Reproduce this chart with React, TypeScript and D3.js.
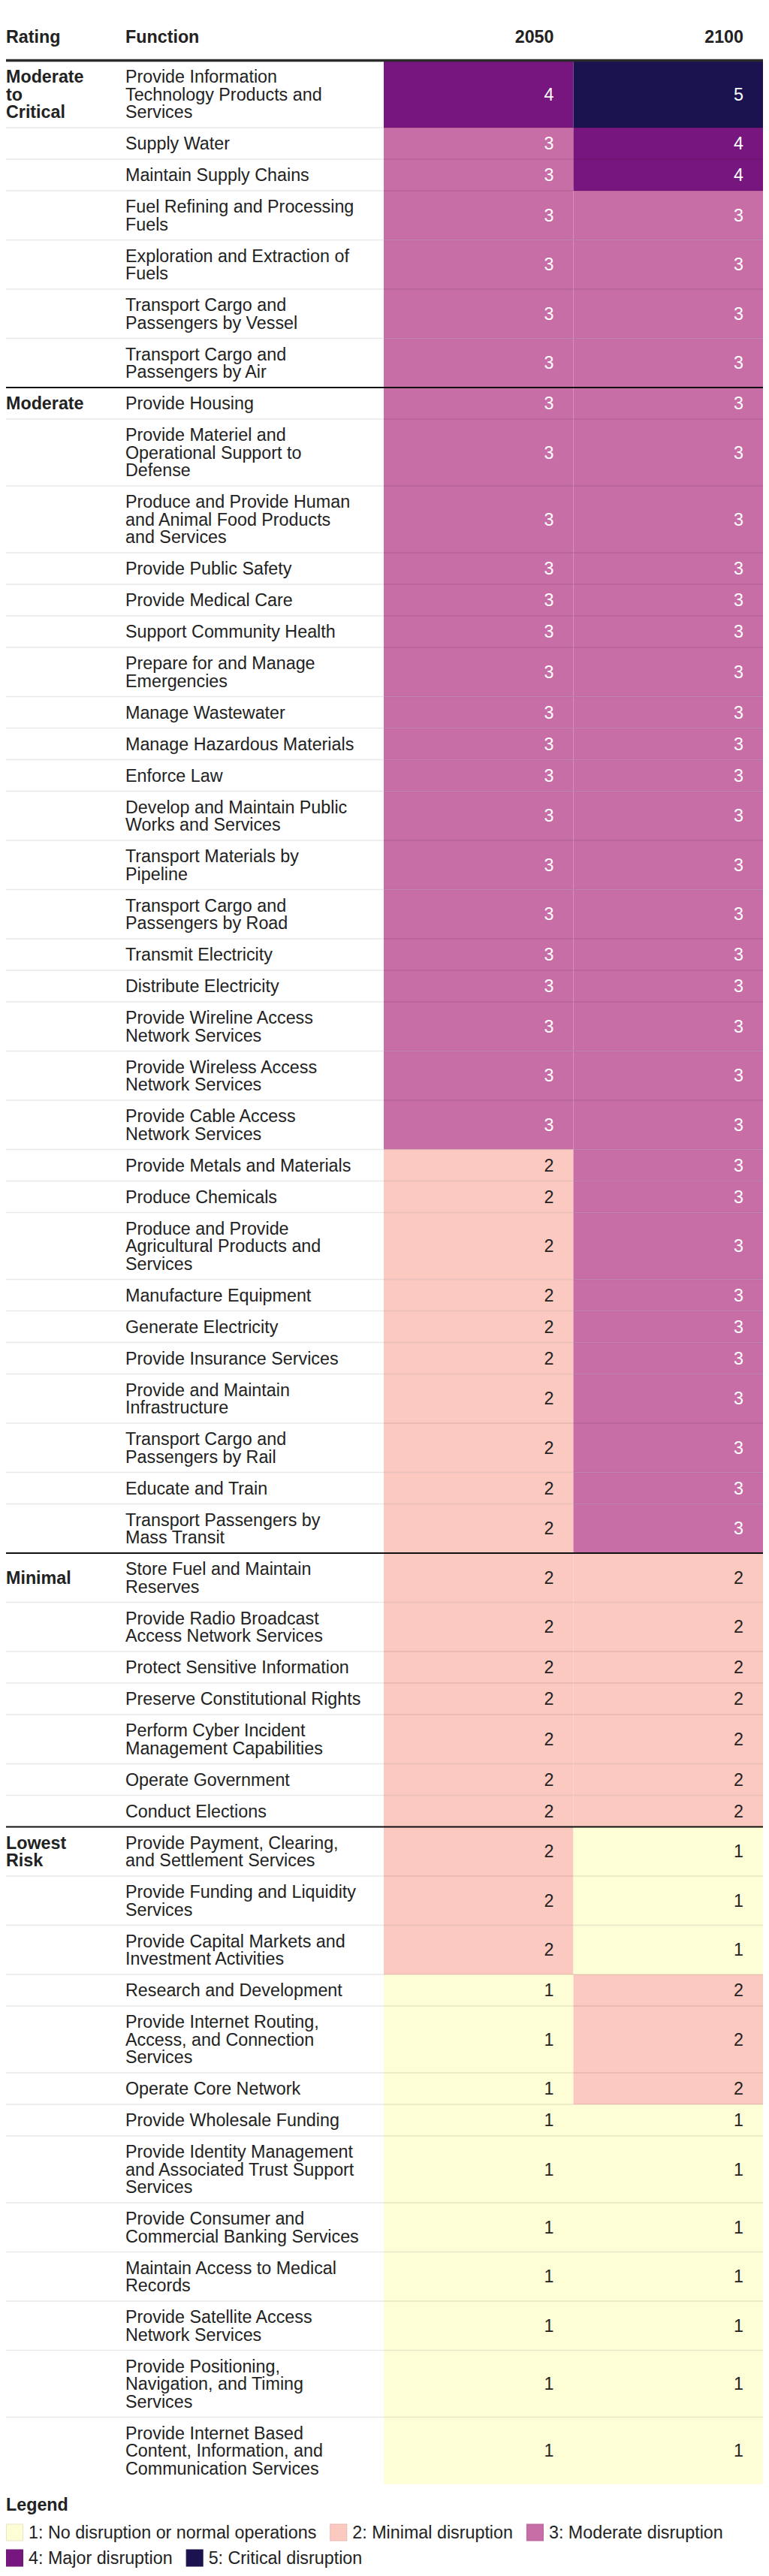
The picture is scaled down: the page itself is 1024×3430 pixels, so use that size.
import React from "react";
import * as d3 from "d3";

// ---------- DATA ----------
const ratingGroups = ["Moderate|to|Critical", "Moderate", "Minimal", "Lowest|Risk"];
const groupSizes = [7, 28, 7, 13];

const functions = [
  "Provide Information|Technology Products and|Services",
  "Supply Water",
  "Maintain Supply Chains",
  "Fuel Refining and Processing|Fuels",
  "Exploration and Extraction of|Fuels",
  "Transport Cargo and|Passengers by Vessel",
  "Transport Cargo and|Passengers by Air",
  "Provide Housing",
  "Provide Materiel and|Operational Support to|Defense",
  "Produce and Provide Human|and Animal Food Products|and Services",
  "Provide Public Safety",
  "Provide Medical Care",
  "Support Community Health",
  "Prepare for and Manage|Emergencies",
  "Manage Wastewater",
  "Manage Hazardous Materials",
  "Enforce Law",
  "Develop and Maintain Public|Works and Services",
  "Transport Materials by|Pipeline",
  "Transport Cargo and|Passengers by Road",
  "Transmit Electricity",
  "Distribute Electricity",
  "Provide Wireline Access|Network Services",
  "Provide Wireless Access|Network Services",
  "Provide Cable Access|Network Services",
  "Provide Metals and Materials",
  "Produce Chemicals",
  "Produce and Provide|Agricultural Products and|Services",
  "Manufacture Equipment",
  "Generate Electricity",
  "Provide Insurance Services",
  "Provide and Maintain|Infrastructure",
  "Transport Cargo and|Passengers by Rail",
  "Educate and Train",
  "Transport Passengers by|Mass Transit",
  "Store Fuel and Maintain|Reserves",
  "Provide Radio Broadcast|Access Network Services",
  "Protect Sensitive Information",
  "Preserve Constitutional Rights",
  "Perform Cyber Incident|Management Capabilities",
  "Operate Government",
  "Conduct Elections",
  "Provide Payment, Clearing,|and Settlement Services",
  "Provide Funding and Liquidity|Services",
  "Provide Capital Markets and|Investment Activities",
  "Research and Development",
  "Provide Internet Routing,|Access, and Connection|Services",
  "Operate Core Network",
  "Provide Wholesale Funding",
  "Provide Identity Management|and Associated Trust Support|Services",
  "Provide Consumer and|Commercial Banking Services",
  "Maintain Access to Medical|Records",
  "Provide Satellite Access|Network Services",
  "Provide Positioning,|Navigation, and Timing|Services",
  "Provide Internet Based|Content, Information, and|Communication Services",
];

const values2050 = [
  4, 3, 3, 3, 3, 3, 3,
  3, 3, 3, 3, 3, 3, 3, 3, 3, 3, 3, 3, 3, 3, 3, 3, 3, 3,
  2, 2, 2, 2, 2, 2, 2, 2, 2, 2,
  2, 2, 2, 2, 2, 2, 2,
  2, 2, 2, 1, 1, 1, 1, 1, 1, 1, 1, 1, 1,
];
const values2100 = [
  5, 4, 4, 3, 3, 3, 3,
  3, 3, 3, 3, 3, 3, 3, 3, 3, 3, 3, 3, 3, 3, 3, 3, 3, 3,
  3, 3, 3, 3, 3, 3, 3, 3, 3, 3,
  2, 2, 2, 2, 2, 2, 2,
  1, 1, 1, 2, 2, 2, 1, 1, 1, 1, 1, 1, 1,
];
const years = ["2050", "2100"];
const levels = [1, 2, 3, 4, 5];
const levelLabels = [
  "1: No disruption or normal operations",
  "2: Minimal disruption",
  "3: Moderate disruption",
  "4: Major disruption",
  "5: Critical disruption",
];
const levelColors = ["#fdfdd6", "#fcc9c0", "#c86ea7", "#78167f", "#1a1350"];

// ---------- LAYOUT ----------
const FONT = "'Liberation Sans', Arial, Helvetica, sans-serif";
const FS = 23.3;
const LINE = 23.5;
const BASE = 0.3465 * FS; // line center -> alphabetic baseline
const LEFT = 8;
const RIGHT = 1016;
const FUNC_X = 167;
const TABLE_TOP = 81;
const TEXT = "#222";

function measure(text: string, weight = "normal") {
  const c = document.createElement("canvas").getContext("2d")!;
  c.font = `${weight} ${FS}px ${FONT}`;
  return c.measureText(text).width;
}

export default function App() {
  const color = d3.scaleOrdinal<number, string>().domain(levels).range(levelColors);
  const x = d3.scaleBand<string>().domain(years).range([511, RIGHT]).padding(0);
  const numPadRight = 26;

  const lineCounts = functions.map((f) => f.split("|").length);
  const heights = lineCounts.map((n) => 42 + (n - 1) * LINE);
  const tops = [TABLE_TOP, ...Array.from(d3.cumsum(heights), (h) => TABLE_TOP + h)];
  const tableBottom = tops[functions.length];

  const groupStarts: number[] = [];
  let acc = 0;
  groupSizes.forEach((s) => {
    groupStarts.push(acc);
    acc += s;
  });

  const darkText = (v: number) => v >= 3;

  // Legend layout
  const legendTitleY = tableBottom + 35;
  const legendRow0 = tableBottom + 64.5;
  const legendRowStep = 34;
  const sw = 23;
  const items: { x: number; row: number; i: number }[] = [];
  let lx = LEFT;
  let row = 0;
  levelLabels.forEach((lab, i) => {
    const w = sw + 7 + measure(lab);
    if (lx + w > RIGHT && lx > LEFT) {
      row += 1;
      lx = LEFT;
    }
    items.push({ x: lx, row, i });
    lx += w + 18;
  });

  return (
    <div style={{ position: "absolute", left: 0, top: 0 }}>
      <svg width={1024} height={3430} style={{ display: "block" }} fontFamily={FONT} fontSize={FS}>
        <rect width={1024} height={3430} fill="#fff" />
        {/* header */}
        <text x={LEFT} y={57} fontWeight="bold" fill={TEXT}>Rating</text>
        <text x={FUNC_X} y={57} fontWeight="bold" fill={TEXT}>Function</text>
        {years.map((yr) => (
          <text key={yr} x={x(yr)! + x.bandwidth() - numPadRight} y={57} fontWeight="bold" textAnchor="end" fill={TEXT}>
            {yr}
          </text>
        ))}

        {/* cells */}
        {functions.map((f, i) => {
          const top = tops[i];
          const h = heights[i];
          const cy = top + h / 2;
          const lines = f.split("|");
          return (
            <g key={i}>
              {years.map((yr, j) => {
                const v = j === 0 ? values2050[i] : values2100[i];
                return (
                  <g key={yr}>
                    <rect x={x(yr)!} y={top} width={x.bandwidth()} height={h} fill={color(v)} />
                    <text
                      x={x(yr)! + x.bandwidth() - numPadRight}
                      y={cy + BASE}
                      textAnchor="end"
                      fill={darkText(v) ? "#fff" : TEXT}
                    >
                      {v}
                    </text>
                  </g>
                );
              })}
              {lines.map((ln, k) => (
                <text key={k} x={FUNC_X} y={cy + (k - (lines.length - 1) / 2) * LINE + BASE} fill={TEXT}>
                  {ln}
                </text>
              ))}
            </g>
          );
        })}

        {/* row separators */}
        {functions.map((f, i) =>
          i === 0 || groupStarts.includes(i) ? null : (
            <line key={"s" + i} x1={LEFT} x2={RIGHT} y1={tops[i]} y2={tops[i]} stroke="rgba(0,0,0,0.09)" strokeWidth={1.5} />
          )
        )}

        {/* rating labels & section lines */}
        {ratingGroups.map((g, gi) => {
          const ri = groupStarts[gi];
          const top = tops[ri];
          const cy = top + heights[ri] / 2;
          const lines = g.split("|");
          return (
            <g key={g}>
              {gi > 0 && <line x1={LEFT} x2={RIGHT} y1={top} y2={top} stroke="#111" strokeWidth={2} />}
              {lines.map((ln, k) => (
                <text key={k} x={LEFT} y={cy + (k - (lines.length - 1) / 2) * LINE + BASE} fontWeight="bold" fill={TEXT}>
                  {ln}
                </text>
              ))}
            </g>
          );
        })}
        <line x1={LEFT} x2={RIGHT} y1={TABLE_TOP - 0.5} y2={TABLE_TOP - 0.5} stroke="#2b2b2b" strokeWidth={3.5} />

        {/* legend */}
        <text x={LEFT} y={legendTitleY} fontWeight="bold" fill={TEXT}>Legend</text>
        {items.map((it) => {
          const cy = legendRow0 + it.row * legendRowStep;
          return (
            <g key={it.i}>
              <rect
                x={it.x + 0.5}
                y={cy - sw / 2 + 0.5}
                width={sw - 1}
                height={sw - 1}
                fill={levelColors[it.i]}
                stroke={d3.color(levelColors[it.i])!.darker(0.25).toString()}
                strokeWidth={1}
              />
              <text x={it.x + sw + 7} y={cy + BASE} fill={TEXT}>
                {levelLabels[it.i]}
              </text>
            </g>
          );
        })}
      </svg>
    </div>
  );
}
